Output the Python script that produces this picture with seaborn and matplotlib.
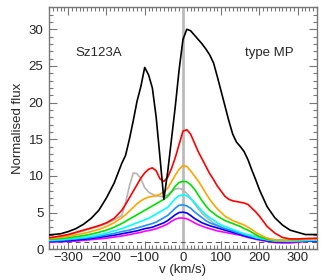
import matplotlib
matplotlib.use('Agg')
import matplotlib.pyplot as plt
from matplotlib.ticker import MultipleLocator
import seaborn as sns
import numpy as np
import pandas as pd

# velocity grid (km/s)
v = [-350,-320,-300,-280,-260,-240,-220,-200,-180,-160,-150,-140,-130,-120,-110,-100,-90,-80,-70,-60,-50,-40,-30,-20,-10,
     0,10,20,30,40,50,60,70,80,90,100,110,120,130,140,150,160,170,180,190,200,220,240,260,280,300,320,350]

black = [1.95,2.1,2.4,2.8,3.4,4.2,5.3,7.0,9.0,11.7,12.8,15.0,17.5,20.2,22.2,24.8,23.8,22.0,18.0,12.5,6.8,10.5,15.0,19.5,24.5,
         28.6,30.0,29.8,29.2,28.6,28.0,27.3,26.5,25.4,23.5,21.5,19.5,17.5,15.7,14.6,14.0,13.3,12.2,10.8,9.5,8.1,5.8,4.3,3.3,2.6,2.3,2.0,2.0]
red = [1.55,1.8,2.0,2.3,2.6,2.9,3.2,3.6,4.2,5.3,6.1,7.0,7.9,8.8,9.7,10.4,10.9,11.1,10.7,9.6,9.25,9.8,11.0,12.5,14.3,
       16.1,16.3,15.7,14.5,13.3,12.3,11.3,10.3,9.5,8.6,7.9,7.2,6.8,6.6,6.5,6.4,6.3,6.1,5.6,5.1,4.5,3.1,2.2,1.6,1.4,1.4,1.45,1.5]
grey = [1.5,1.7,1.9,2.2,2.5,2.8,3.1,3.5,4.0,4.6,6.3,8.6,10.4,10.3,9.6,8.4,7.8,7.5,7.3,7.2,7.2,7.4,7.9,8.2,8.3,
        8.1,7.6,7.0,6.2,5.5,4.9,4.4,4.0,3.6,3.3,3.0,2.8,2.6,2.4,2.3,2.2,2.1,2.0,1.9,1.8,1.7,1.5,1.3,1.2,1.2,1.2,1.3,1.3]
orange = [1.45,1.6,1.75,1.95,2.15,2.4,2.7,3.1,3.6,4.3,4.7,5.2,5.7,6.2,6.6,6.9,7.1,7.2,7.3,7.5,7.8,8.3,9.2,10.1,10.9,
          11.4,11.3,10.7,10.0,9.3,8.5,7.6,6.8,6.1,5.5,5.0,4.5,4.2,3.9,3.7,3.5,3.3,3.0,2.7,2.3,2.0,1.5,1.25,1.2,1.25,1.3,1.35,1.4]
green = [1.35,1.45,1.55,1.7,1.85,2.05,2.3,2.6,3.0,3.5,3.8,4.1,4.4,4.7,5.0,5.3,5.6,5.9,6.2,6.5,6.8,7.2,7.8,8.6,9.1,
         9.25,9.2,8.8,8.2,7.4,6.6,5.9,5.3,4.9,4.5,4.2,3.9,3.7,3.5,3.3,3.1,2.8,2.6,2.3,2.0,1.7,1.35,1.2,1.2,1.25,1.3,1.35,1.4]
cyan = [1.2,1.3,1.4,1.5,1.6,1.75,1.95,2.2,2.5,2.8,3.0,3.2,3.4,3.6,3.8,4.0,4.2,4.5,4.8,5.1,5.4,5.7,6.3,6.9,7.3,
        7.4,7.3,6.9,6.4,5.8,5.2,4.7,4.3,4.0,3.6,3.3,3.1,2.9,2.7,2.5,2.3,2.1,1.95,1.8,1.6,1.5,1.3,1.15,1.1,1.1,1.15,1.2,1.25]
skyblue = [1.15,1.2,1.3,1.4,1.5,1.6,1.75,1.95,2.15,2.4,2.5,2.6,2.75,2.9,3.05,3.2,3.35,3.5,3.7,4.0,4.3,4.6,5.1,5.6,6.0,
           6.05,5.9,5.6,5.1,4.7,4.3,3.9,3.6,3.4,3.2,3.0,2.8,2.65,2.5,2.3,2.15,2.0,1.85,1.7,1.55,1.45,1.25,1.1,1.05,1.05,1.1,1.15,1.2]
blue = [1.05,1.1,1.15,1.25,1.35,1.45,1.6,1.75,1.9,2.1,2.2,2.3,2.4,2.5,2.65,2.8,2.9,3.0,3.2,3.4,3.6,3.9,4.3,4.7,5.0,
        5.05,4.95,4.6,4.2,3.9,3.6,3.4,3.2,3.05,2.9,2.75,2.6,2.45,2.3,2.15,2.0,1.85,1.7,1.55,1.45,1.35,1.15,1.0,0.95,1.0,1.05,1.1,1.15]
magenta = [0.95,1.0,1.05,1.1,1.2,1.3,1.4,1.5,1.65,1.8,1.9,2.0,2.1,2.2,2.3,2.45,2.55,2.65,2.8,3.0,3.2,3.45,3.8,4.1,4.25,
           4.25,4.15,3.9,3.6,3.35,3.15,2.95,2.8,2.65,2.5,2.4,2.3,2.2,2.1,2.0,1.9,1.75,1.6,1.5,1.35,1.25,1.05,0.9,0.85,0.85,0.95,1.05,1.1]

series = {'grey': grey, 'magenta': magenta, 'blue': blue, 'skyblue': skyblue, 'cyan': cyan,
          'green': green, 'orange': orange, 'red': red, 'black': black}
colours = {'grey': '#b4b4b4', 'magenta': '#ff00ff', 'blue': '#0000ff', 'skyblue': '#1e90ff',
           'cyan': '#00ffff', 'green': '#00e000', 'orange': '#ffa500', 'red': '#ff0000', 'black': '#000000'}

rows = []
for name, vals in series.items():
    for x, y in zip(v, vals):
        rows.append((name, x, y))
df = pd.DataFrame(rows, columns=['profile', 'v', 'flux'])

sns.set_style('ticks')
plt.rcParams['font.family'] = ['Liberation Sans', 'DejaVu Sans']

fig = plt.figure(figsize=(3.27, 2.80), dpi=100)
ax = fig.add_axes([0.150, 0.110, 0.819, 0.864])

ax.axvline(0, color='#bbbbbb', lw=2.0, zorder=1)
ax.axhline(1, color='#555555', lw=0.7, ls=(0, (5, 4)), zorder=1)

sns.lineplot(data=df, x='v', y='flux', hue='profile', palette=colours,
             hue_order=list(series.keys()), legend=False, lw=1.2, ax=ax, zorder=3)

ax.set_xlim(-350, 350)
ax.set_ylim(0, 33)
ax.xaxis.set_major_locator(MultipleLocator(100))
ax.xaxis.set_minor_locator(MultipleLocator(10))
ax.yaxis.set_major_locator(MultipleLocator(5))
ax.yaxis.set_minor_locator(MultipleLocator(1))
ax.tick_params(which='both', direction='in', top=True, right=True, color='#777777', labelsize=9.5, width=0.8)
ax.tick_params(which='major', length=6)
ax.tick_params(axis='x', which='major', pad=2)
ax.tick_params(axis='y', which='major', pad=4)
ax.tick_params(which='minor', length=3)
for s in ax.spines.values():
    s.set_color('#777777')
    s.set_linewidth(1.0)

ax.set_xlabel('v (km/s)', fontsize=9.5, labelpad=0)
ax.set_ylabel('Normalised flux', fontsize=9.5, labelpad=3)

ax.text(0.097, 0.812, 'Sz123A', transform=ax.transAxes, fontsize=9.5, va='center', ha='left')
ax.text(0.731, 0.812, 'type MP', transform=ax.transAxes, fontsize=9.5, va='center', ha='left')

plt.savefig('out.png', dpi=100)
